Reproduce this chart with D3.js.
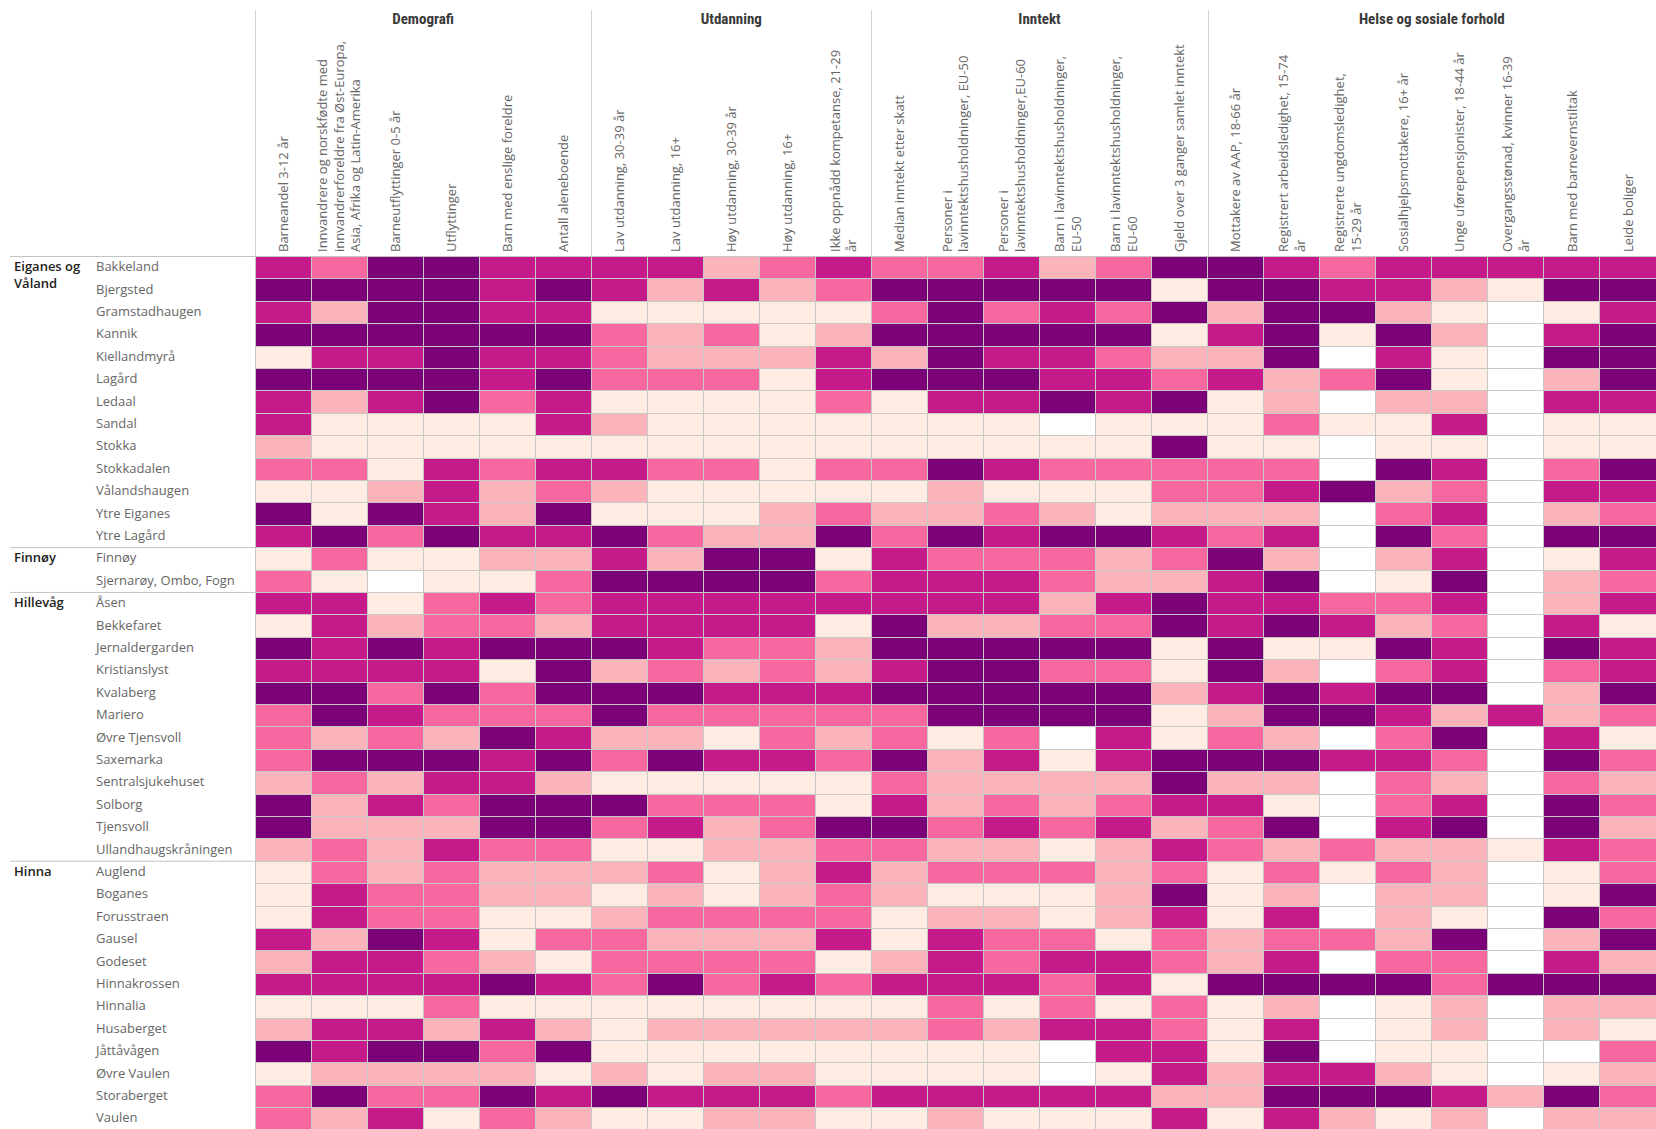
<!DOCTYPE html>
<html><head><meta charset="utf-8">
<script src="https://cdn.jsdelivr.net/npm/d3@7"></script>
<style>
html,body{margin:0;padding:0;background:#fff;}
svg{display:block;}
</style></head><body>
<svg id="chart" width="1656" height="1129"></svg>
<script>
// ---------- DATA ----------
const groupNames = ["Demografi", "Utdanning", "Inntekt", "Helse og sosiale forhold"];
const groupSizes = [6, 5, 6, 8];

const columnLabels = [
  ["Barneandel 3-12 år"],
  ["Innvandrere og norskfødte med", "innvandrerforeldre fra Øst-Europa,", "Asia, Afrika og Latin-Amerika"],
  ["Barneutflyttinger 0-5 år"],
  ["Utflyttinger"],
  ["Barn med enslige foreldre"],
  ["Antall aleneboende"],
  ["Lav utdanning, 30-39 år"],
  ["Lav utdanning, 16+"],
  ["Høy utdanning, 30-39 år"],
  ["Høy utdanning, 16+"],
  ["Ikke oppnådd kompetanse, 21-29", "år"],
  ["Median inntekt etter skatt"],
  ["Personer i", "lavinntektshusholdninger, EU-50"],
  ["Personer i", "lavinntektshusholdninger,EU-60"],
  ["Barn i lavinntektshusholdninger,", "EU-50"],
  ["Barn i lavinntektshusholdninger,", "EU-60"],
  ["Gjeld over 3 ganger samlet inntekt"],
  ["Mottakere av AAP, 18-66 år"],
  ["Registrert arbeidsledighet, 15-74", "år"],
  ["Registrerte ungdomsledighet,", "15-29 år"],
  ["Sosialhjelpsmottakere, 16+ år"],
  ["Unge uførepensjonister, 18-44 år"],
  ["Overgangsstønad, kvinner 16-39", "år"],
  ["Barn med barnevernstiltak"],
  ["Leide boliger"]
];

const districtNames = ["Eiganes og Våland", "Finnøy", "Hillevåg", "Hinna"];

// class 0 (lowest) .. 4 (highest), null = no data
const eiganesNames = ["Bakkeland","Bjergsted","Gramstadhaugen","Kannik","Kiellandmyrå","Lagård","Ledaal","Sandal","Stokka","Stokkadalen","Vålandshaugen","Ytre Eiganes","Ytre Lagård"];
const eiganesValues = [
  [3,2,4,4,3,3,3,3,1,2,3,2,2, 3,1,2,4,4,3,2,3,3,3,3,3],
  [4,4,4,4,3,4,3,1,3,1,2,4,4, 4,4,4,0,4,4,3,3,1,0,4,4],
  [3,1,4,4,3,3,0,0,0,0,0,2,4, 2,3,2,4,1,4,4,1,0,null,0,3],
  [4,4,4,4,4,4,2,1,2,0,1,4,4, 4,4,4,0,3,4,0,4,1,null,3,4],
  [0,3,3,4,3,3,2,1,1,1,3,1,4, 3,3,2,1,1,4,null,3,0,null,4,4],
  [4,4,4,4,3,4,2,2,2,0,3,4,4, 4,3,3,2,3,1,2,4,0,null,1,4],
  [3,1,3,4,2,3,0,0,0,0,2,0,3, 3,4,3,4,0,1,null,1,1,null,3,3],
  [3,0,0,0,0,3,1,0,0,0,0,0,0, 0,null,0,0,0,2,0,0,3,null,0,0],
  [1,0,0,0,0,0,0,0,0,0,0,0,0, 0,0,0,4,0,0,null,0,0,null,0,0],
  [2,2,0,3,2,3,3,2,2,0,2,2,4, 3,2,2,2,2,2,null,4,3,null,2,4],
  [0,0,1,3,1,2,1,0,0,0,0,0,1, 0,0,0,2,2,3,4,1,2,null,3,3],
  [4,0,4,3,1,4,0,0,0,1,2,1,1, 2,1,0,1,1,1,null,2,3,null,1,2],
  [3,4,2,4,3,3,4,2,1,1,4,2,4, 3,4,4,3,2,3,null,4,2,null,4,4]
];

const finnoyNames = ["Finnøy","Sjernarøy, Ombo, Fogn"];
const finnoyValues = [
  [0,2,0,0,1,1,3,1,4,4,0,3,2, 2,2,1,2,4,1,null,1,3,null,0,3],
  [2,0,null,0,0,2,4,4,4,4,2,3,3, 3,2,1,1,3,4,null,0,4,null,1,2]
];

const hillevagNames = ["Åsen","Bekkefaret","Jernaldergarden","Kristianslyst","Kvalaberg","Mariero","Øvre Tjensvoll","Saxemarka","Sentralsjukehuset","Solborg","Tjensvoll","Ullandhaugskråningen"];
const hillevagValues = [
  [3,3,0,2,3,2,3,3,3,3,3,3,3, 3,1,3,4,3,3,2,2,3,null,1,3],
  [0,3,1,2,2,1,3,3,3,3,0,4,1, 1,2,2,4,3,4,3,1,2,null,3,0],
  [4,3,4,3,4,4,4,3,2,2,1,4,4, 4,4,4,0,4,0,0,4,3,null,4,3],
  [3,3,3,3,0,4,1,2,1,2,1,3,4, 4,2,2,0,4,1,null,2,3,null,2,3],
  [4,4,2,4,2,4,4,4,3,3,3,4,4, 4,4,4,1,3,4,3,4,4,null,1,4],
  [2,4,3,2,2,2,4,2,2,2,2,2,4, 4,4,4,0,1,4,4,3,1,3,1,2],
  [2,1,2,1,4,3,1,1,0,2,1,2,0, 2,null,3,0,2,1,null,2,4,null,3,0],
  [2,4,4,4,3,4,2,4,3,3,2,4,1, 3,0,3,4,4,4,3,3,2,null,4,2],
  [1,2,1,3,3,1,0,0,0,0,0,2,1, 1,1,1,4,1,1,null,2,1,null,2,1],
  [4,1,3,2,4,4,4,2,2,2,0,3,1, 2,1,2,3,3,0,null,2,3,null,4,2],
  [4,1,1,1,4,4,2,3,1,2,4,4,2, 3,2,3,1,2,4,null,3,4,null,4,1],
  [1,2,1,3,2,2,0,0,1,1,2,2,1, 1,0,1,3,2,1,2,1,1,0,3,2]
];

const hinnaNames = ["Auglend","Boganes","Forusstraen","Gausel","Godeset","Hinnakrossen","Hinnalia","Husaberget","Jåttåvågen","Øvre Vaulen","Storaberget","Vaulen"];
const hinnaValues = [
  [0,2,1,2,1,1,1,2,0,1,3,1,2, 2,2,1,2,0,2,0,2,1,null,0,2],
  [0,3,2,2,1,1,0,1,0,1,2,1,0, 0,0,1,4,0,1,null,1,1,null,0,4],
  [0,3,2,2,0,0,1,2,2,2,2,0,1, 1,0,1,3,0,3,null,1,0,null,4,2],
  [3,1,4,3,0,2,2,1,1,1,3,0,3, 2,2,0,2,1,2,2,1,4,null,1,4],
  [1,3,3,2,1,0,2,2,2,2,0,1,3, 2,3,3,2,1,3,null,2,2,null,3,1],
  [3,3,3,3,4,3,2,4,2,3,2,3,3, 3,2,3,0,4,4,4,4,2,4,4,4],
  [0,0,0,2,0,0,0,0,0,0,0,0,2, 0,2,0,2,0,1,null,0,1,null,1,1],
  [1,3,3,1,3,1,0,1,1,1,1,1,2, 1,3,3,2,0,3,null,0,1,null,1,0],
  [4,3,4,4,2,4,0,0,0,0,0,0,0, 0,null,3,3,0,4,null,0,0,null,null,2],
  [0,1,1,1,1,0,1,0,1,1,0,0,0, 0,null,0,3,1,3,3,1,0,null,0,1],
  [2,4,2,2,4,3,4,3,3,3,2,3,3, 3,3,3,1,1,4,4,4,3,1,4,2],
  [2,1,3,0,2,1,0,0,1,1,0,0,1, 0,0,0,3,0,3,1,0,1,null,1,1]
];

const classes = [0, 1, 2, 3, 4];
const classColors = ["#feebe2", "#fbb4b9", "#f768a1", "#c51b8a", "#7a0177"];

// ---------- BUILD ----------
const districtRows = [
  [eiganesNames, eiganesValues],
  [finnoyNames, finnoyValues],
  [hillevagNames, hillevagValues],
  [hinnaNames, hinnaValues]
];
const rows = [];
districtRows.forEach(([names, vals], di) => {
  names.forEach((n, i) => rows.push({district: districtNames[di], name: n, values: vals[i], first: i === 0}));
});

const W = 1656, H = 1129;
const gridLeft = 255, gridRight = 1656, gridTop = 256.5, gridBottom = 1130;
const svg = d3.select("#chart");
const color = d3.scaleOrdinal().domain(classes).range(classColors);

const x = d3.scaleBand().domain(d3.range(columnLabels.length)).range([gridLeft, gridRight]);
const y = d3.scaleBand().domain(d3.range(rows.length)).range([gridTop, gridBottom]);

const textFont = "'Open Sans', 'Liberation Sans', Arial, sans-serif";

// group header separators
let start = 0;
const groupStarts = groupSizes.map(s => { const v = start; start += s; return v; });
svg.append("g").selectAll("line").data(groupStarts).join("line")
  .attr("x1", d => Math.round(x(d)) + 0.5).attr("x2", d => Math.round(x(d)) + 0.5)
  .attr("y1", 10).attr("y2", gridTop)
  .attr("stroke", "#d3d3d3").attr("stroke-width", 1);

// group titles
svg.append("g").selectAll("text").data(groupNames).join("text")
  .attr("x", (d, i) => {
    const a = x(groupStarts[i]);
    const b = x(groupStarts[i] + groupSizes[i] - 1) + x.bandwidth();
    return (a + b) / 2;
  })
  .attr("y", 19)
  .attr("dy", "0.35em")
  .attr("text-anchor", "middle")
  .attr("font-family", "'Liberation Sans Narrow', 'Roboto Condensed', 'DejaVu Sans Condensed', sans-serif")
  .attr("font-weight", "bold")
  .attr("font-size", 15)
  .attr("fill", "#3a3a3a")
  .text(d => d);

// column labels (rotated)
const lineH = 16.8;
const colG = svg.append("g");
columnLabels.forEach((lines, c) => {
  const n = lines.length;
  lines.forEach((ln, i) => {
    const cx = x(c) + x.bandwidth() / 2 + (i - (n - 1) / 2) * lineH;
    colG.append("text")
      .attr("transform", `translate(${cx},252) rotate(-90)`)
      .attr("dy", "0.35em")
      .attr("text-anchor", "start")
      .attr("font-family", textFont)
      .attr("font-size", 13)
      .attr("fill", "#666")
      .text(ln);
  });
});

// cells
const cellG = svg.append("g").attr("shape-rendering", "crispEdges");
rows.forEach((r, ri) => {
  cellG.selectAll(null).data(r.values).join("rect")
    .attr("x", (d, ci) => x(ci))
    .attr("y", y(ri))
    .attr("width", x.bandwidth())
    .attr("height", y.bandwidth())
    .attr("fill", d => d == null ? "#ffffff" : color(d))
    .attr("stroke", "#c8c8c8")
    .attr("stroke-width", 1);
});

// horizontal separators (top + district boundaries in label area)
svg.append("line")
  .attr("x1", 10).attr("x2", W).attr("y1", gridTop).attr("y2", gridTop)
  .attr("stroke", "#c4c4c4").attr("stroke-width", 1);
const firstIdx = rows.map((r, i) => r.first ? i : -1).filter(i => i > 0);
svg.append("g").selectAll("line").data(firstIdx).join("line")
  .attr("x1", 10).attr("x2", gridLeft)
  .attr("y1", d => y(d)).attr("y2", d => y(d))
  .attr("stroke", "#c4c4c4").attr("stroke-width", 1);

// row labels
svg.append("g").selectAll("text").data(rows).join("text")
  .attr("x", 96)
  .attr("y", (d, i) => y(i) + y.bandwidth() / 2 - 1)
  .attr("dy", "0.35em")
  .attr("font-family", textFont)
  .attr("font-size", 13)
  .attr("fill", "#666")
  .text(d => d.name);

// district labels (wrapped)
const distG = svg.append("g");
rows.forEach((r, i) => {
  if (!r.first) return;
  const words = r.district.split(" ");
  const t = distG.append("text")
    .attr("font-family", textFont)
    .attr("font-size", 13)
    .attr("font-weight", 600)
    .attr("fill", "#222");
  let line = [];
  let li = 0;
  const y0 = y(i) + y.bandwidth() / 2 - 1;
  let ts = t.append("tspan").attr("x", 14).attr("y", y0).attr("dy", "0.35em");
  words.forEach(w => {
    line.push(w);
    ts.text(line.join(" "));
    if (ts.node().getComputedTextLength() > 74 && line.length > 1) {
      line.pop();
      ts.text(line.join(" "));
      line = [w];
      li++;
      ts = t.append("tspan").attr("x", 14).attr("y", y0 + li * lineH).attr("dy", "0.35em").text(w);
    }
  });
});
</script>
</body></html>
